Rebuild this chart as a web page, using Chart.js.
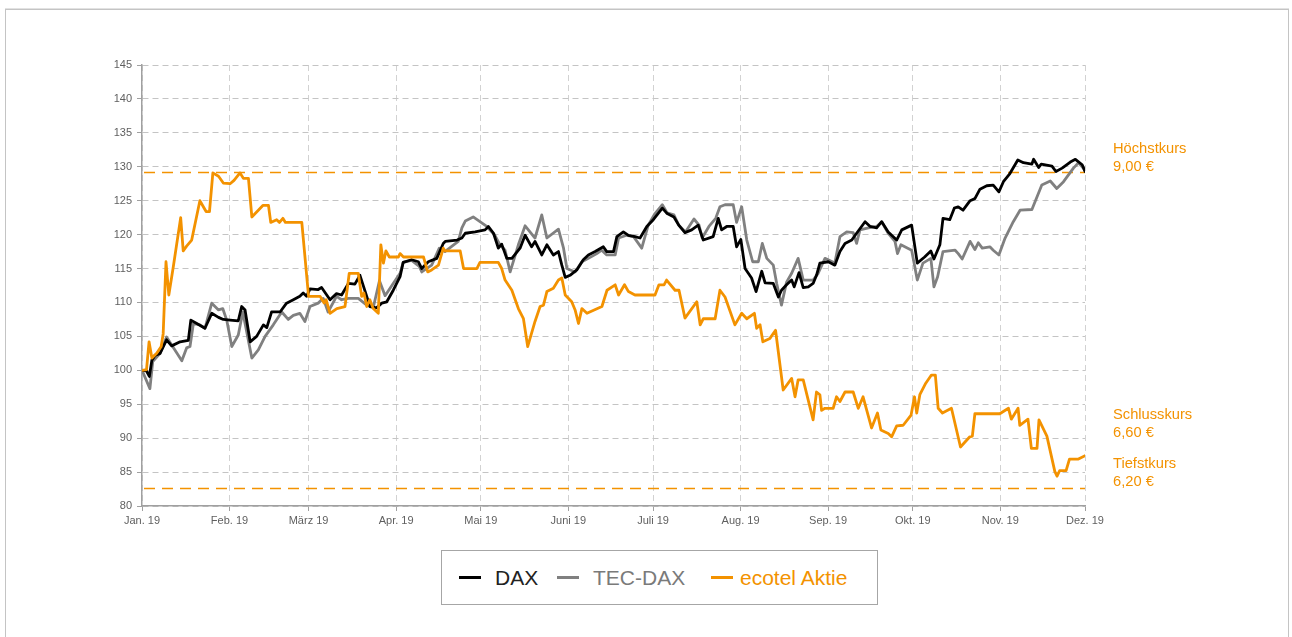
<!DOCTYPE html>
<html lang="de">
<head>
<meta charset="utf-8">
<title>ecotel Aktie vs. DAX / TEC-DAX 2019</title>
<script src="https://cdn.jsdelivr.net/npm/chart.js@4.4.1/dist/chart.umd.min.js"></script>
<style>
  html, body { margin: 0; padding: 0; background: #fff; }
  body { width: 1292px; height: 637px; position: relative; overflow: hidden; font-family: "Liberation Sans", Arial, sans-serif; }
  #rahmen { position: absolute; left: 5px; top: 9px; width: 1282px; height: 700px; border: 1px solid #c4c4c4; box-shadow: 0 -1px 0 #e2e2e2; }
  #chartBox { position: absolute; left: 0; top: 0; width: 1292px; height: 540px; }
  #legende { position: absolute; left: 441px; top: 550px; width: 435px; height: 53px; border: 1px solid #a6a6a6; background: #fff; }
  .item { position: absolute; top: 0; height: 53px; line-height: 53px; font-size: 21px; white-space: nowrap; }
  .strich { position: absolute; top: 25px; width: 22px; height: 3px; }
</style>
</head>
<body>
<div id="rahmen"></div>
<div id="chartBox"><canvas id="grafica" width="1292" height="540"></canvas></div>
<div id="legende">
  <div class="strich" style="left:17px;background:#000"></div>
  <div class="item" style="left:53px;color:#222">DAX</div>
  <div class="strich" style="left:115px;background:#808080"></div>
  <div class="item" style="left:151px;color:#7a7a7a">TEC-DAX</div>
  <div class="strich" style="left:269px;background:#f39200"></div>
  <div class="item" style="left:298px;color:#f39200">ecotel Aktie</div>
</div>
<script>
// Achse: Tage seit 1. Januar 2019
const monatsTage = [0, 31, 59, 90, 120, 151, 181, 212, 243, 273, 304, 334];
const monatsLabels = ['Jan. 19', 'Feb. 19', 'März 19', 'Apr. 19', 'Mai 19', 'Juni 19', 'Juli 19', 'Aug. 19', 'Sep. 19', 'Okt. 19', 'Nov. 19', 'Dez. 19'];

// DAX (indexiert, 100 = Jahresbeginn)
const daxTage = [0, 1.6, 2.6, 3.5, 4.6, 6.4, 8.7, 10.5, 13.5, 16.4, 17.3, 19.4, 22.3, 24.7, 27.1, 28.8, 31.2, 34.1, 35.3, 36.5, 38.3, 40.6, 43.0, 44.2, 45.9, 48.9, 51.2, 53.6, 55.9, 57.1, 58.3, 59.5, 62.4, 63.6, 66.6, 68.9, 70.7, 73.1, 75.4, 77.2, 79.6, 80.7, 83.1, 84.9, 86.7, 89.0, 91.4, 92.5, 95.5, 97.9, 99.1, 101.4, 104.4, 106.7, 107.4, 111.6, 113.3, 114.5, 118.0, 121.5, 122.7, 124.5, 126.2, 127.4, 129.2, 131.0, 133.9, 135.7, 138.0, 139.2, 141.6, 143.4, 145.7, 147.5, 148.7, 149.9, 151.6, 154.0, 156.3, 158.1, 160.5, 163.4, 164.6, 167.0, 168.2, 170.5, 172.3, 174.6, 176.4, 178.8, 181.1, 184.3, 186.0, 188.4, 190.1, 192.3, 194.7, 197.0, 198.8, 202.3, 204.1, 205.3, 207.1, 209.4, 210.6, 212.1, 213.6, 215.9, 217.5, 219.5, 220.7, 223.6, 225.4, 226.5, 228.3, 230.1, 231.0, 232.7, 234.2, 236.0, 237.7, 238.9, 240.1, 243.1, 245.4, 247.2, 249.0, 251.4, 253.1, 256.1, 257.9, 260.2, 262.0, 264.3, 267.3, 269.1, 272.6, 274.6, 277.2, 279.4, 280.5, 282.6, 283.7, 286.1, 287.7, 289.1, 290.8, 293.3, 295.0, 296.8, 299.2, 301.5, 303.5, 305.1, 307.4, 310.2, 312.2, 315.2, 315.8, 317.6, 318.5, 322.3, 323.7, 325.9, 328.8, 330.6, 333.0, 334];
const daxWerte = [100, 99.9, 99.1, 101.5, 102.2, 102.5, 104.5, 103.6, 104.2, 104.4, 107.4, 106.9, 106.2, 108.4, 107.8, 107.5, 107.4, 107.3, 109.4, 108.9, 104.2, 105.0, 106.7, 106.3, 108.6, 108.6, 109.9, 110.4, 110.9, 111.4, 110.9, 112.0, 111.9, 112.2, 110.4, 111.3, 111.1, 112.8, 112.7, 114.0, 110.9, 109.4, 109.2, 109.9, 110.1, 111.8, 113.8, 115.9, 116.3, 116.0, 115.0, 116.0, 116.5, 118.7, 119.0, 119.2, 119.5, 120.2, 120.4, 120.7, 121.2, 120.2, 118.0, 118.6, 116.5, 116.5, 118.0, 119.9, 118.2, 119.0, 117.0, 118.5, 117.0, 117.5, 115.5, 113.7, 114.0, 114.8, 116.3, 117.0, 117.5, 118.2, 117.5, 117.5, 119.7, 120.4, 119.9, 119.7, 119.5, 121.2, 122.2, 123.9, 123.1, 122.6, 121.4, 120.3, 120.7, 121.4, 119.2, 119.7, 122.4, 120.7, 121.2, 121.2, 118.2, 119.3, 115.0, 113.6, 111.6, 114.6, 112.9, 112.8, 110.8, 111.8, 112.6, 113.3, 112.3, 114.4, 112.2, 112.3, 112.8, 114.0, 115.8, 116.0, 115.5, 117.5, 118.7, 119.2, 120.2, 121.9, 121.2, 121.0, 121.9, 120.4, 119.2, 120.7, 121.4, 115.8, 116.7, 117.6, 116.4, 118.5, 122.4, 122.2, 123.9, 124.1, 123.6, 125.0, 125.3, 126.7, 127.2, 127.3, 126.3, 127.8, 129.0, 131.0, 130.6, 130.4, 131.1, 129.9, 130.4, 130.1, 129.3, 129.8, 130.7, 131.1, 130.3, 129.3];

// TEC-DAX
const tecTage = [0, 2.8, 3.8, 6.4, 8.7, 14.1, 15.8, 17.0, 18.2, 20.5, 22.3, 24.7, 27.1, 28.6, 30.0, 31.8, 34.1, 35.7, 38.9, 41.2, 43.6, 46.5, 49.5, 51.8, 53.6, 55.9, 57.7, 59.5, 62.4, 64.2, 65.9, 68.9, 70.7, 73.1, 76.6, 79.6, 82.0, 84.1, 86.1, 88.5, 91.4, 92.5, 95.5, 98.2, 99.1, 102.6, 105.3, 107.3, 112.0, 113.3, 114.5, 117.3, 119.7, 122.1, 125.0, 126.8, 128.6, 130.4, 133.3, 135.7, 139.2, 141.6, 143.4, 147.5, 149.3, 150.5, 153.4, 155.8, 158.1, 161.1, 162.8, 164.6, 167.6, 168.8, 171.7, 174.1, 177.0, 179.3, 181.7, 184.3, 186.0, 188.4, 190.1, 192.5, 195.5, 197.3, 198.4, 200.8, 203.2, 204.7, 206.5, 209.4, 210.6, 212.4, 214.2, 216.3, 218.3, 219.7, 221.3, 223.6, 224.8, 226.5, 228.3, 230.1, 232.4, 234.2, 237.7, 239.5, 241.9, 245.4, 247.2, 249.6, 251.9, 253.1, 254.3, 257.3, 260.2, 262.0, 264.3, 266.7, 267.6, 268.8, 272.6, 274.6, 276.6, 279.4, 280.5, 281.8, 283.7, 288.0, 289.1, 290.5, 293.3, 295.0, 296.2, 297.6, 300.3, 301.5, 303.5, 305.7, 308.6, 311.0, 315.2, 318.7, 321.7, 324.0, 326.4, 329.9, 331.7, 333.0, 334];
const tecWerte = [100, 97.3, 101.3, 102.5, 104.9, 101.4, 103.3, 103.5, 106.9, 106.7, 106.2, 109.9, 108.9, 109.1, 107.4, 103.5, 105.2, 108.6, 101.8, 103.0, 105.0, 106.7, 108.6, 107.5, 108.1, 108.4, 107.2, 109.4, 109.9, 110.6, 108.6, 110.9, 110.4, 110.6, 110.6, 109.6, 109.4, 113.2, 111.0, 112.5, 114.3, 115.9, 116.2, 115.3, 114.5, 115.5, 118.0, 117.5, 119.0, 121.0, 122.0, 122.6, 121.9, 121.2, 119.9, 118.5, 117.7, 114.5, 118.5, 121.3, 119.5, 122.9, 119.5, 120.8, 118.0, 115.0, 114.5, 116.0, 116.5, 117.2, 117.7, 117.0, 117.0, 119.5, 119.9, 119.7, 118.0, 121.4, 123.1, 124.4, 123.2, 122.9, 121.4, 120.4, 122.3, 121.4, 119.5, 121.2, 122.4, 124.1, 124.4, 124.4, 121.8, 124.1, 119.2, 116.0, 116.0, 118.7, 116.5, 115.5, 112.8, 109.6, 113.0, 114.3, 116.5, 113.3, 113.3, 114.3, 116.5, 115.8, 119.7, 120.4, 120.3, 118.7, 120.7, 121.0, 121.2, 121.9, 120.2, 119.0, 117.2, 118.5, 117.7, 113.3, 115.8, 116.5, 112.3, 113.8, 117.5, 117.7, 117.2, 116.4, 119.0, 117.8, 118.8, 118.0, 118.2, 117.7, 117.0, 119.5, 121.9, 123.6, 123.7, 127.3, 127.9, 126.8, 127.8, 129.8, 130.6, 130.0, 129.5];

// ecotel Aktie
const ecoTage = [0, 1.6, 2.5, 3.5, 5.2, 6.8, 7.5, 8.5, 9.5, 11.1, 13.7, 14.6, 15.8, 17.6, 20.5, 22.7, 23.9, 25.1, 27.1, 28.8, 31.2, 32.6, 34.7, 35.9, 37.7, 38.9, 41.2, 42.8, 44.8, 45.6, 47.7, 48.7, 49.9, 50.8, 51.9, 56.6, 59.0, 63.1, 64.5, 65.2, 66.6, 69.0, 71.9, 73.4, 76.6, 77.8, 78.6, 79.6, 80.7, 81.9, 83.7, 84.6, 85.5, 86.4, 87.6, 90.8, 91.4, 92.6, 99.7, 101.2, 102.6, 105.0, 106.7, 107.3, 112.7, 113.9, 118.6, 119.7, 126.2, 127.4, 128.6, 131.0, 133.3, 135.1, 136.6, 139.2, 141.0, 142.2, 143.4, 145.7, 147.5, 148.7, 149.9, 152.2, 153.4, 154.6, 155.8, 157.6, 162.9, 164.7, 167.6, 168.8, 170.9, 172.3, 174.6, 181.7, 183.1, 184.9, 185.8, 188.8, 190.2, 192.3, 196.5, 197.7, 198.8, 203.0, 204.7, 206.5, 210.0, 212.4, 214.2, 216.9, 217.7, 218.9, 219.9, 222.4, 224.4, 227.1, 230.1, 231.3, 232.4, 234.2, 237.7, 238.9, 240.1, 240.7, 241.9, 244.8, 246.0, 247.2, 249.0, 251.9, 253.7, 255.4, 258.4, 260.5, 261.7, 264.3, 265.5, 267.3, 269.6, 272.4, 273.6, 274.4, 275.5, 277.6, 279.6, 281.0, 282.0, 283.5, 286.7, 289.9, 293.2, 294.1, 295.0, 303.8, 306.9, 307.9, 310.3, 310.9, 313.8, 315.0, 317.0, 317.7, 320.5, 323.3, 324.1, 325.0, 327.3, 328.5, 331.5, 334];
const ecoWerte = [100.0, 100.1, 104.2, 101.8, 102.5, 103.5, 105.4, 116.0, 111.1, 115.3, 122.5, 117.6, 118.3, 119.2, 125.0, 123.4, 123.4, 129.1, 128.6, 127.6, 127.5, 128.0, 129.1, 128.3, 128.3, 122.6, 123.6, 124.3, 124.3, 121.8, 122.2, 121.8, 122.4, 121.8, 121.8, 121.8, 110.9, 110.9, 109.9, 110.4, 108.4, 109.1, 109.4, 114.3, 114.3, 110.9, 111.4, 109.4, 110.4, 109.1, 108.4, 118.5, 115.8, 117.6, 116.7, 116.7, 117.2, 116.7, 116.7, 114.5, 114.8, 115.5, 118.0, 117.6, 117.6, 115.0, 115.0, 115.9, 115.9, 115.0, 113.3, 111.8, 109.1, 107.6, 103.5, 107.2, 109.4, 109.6, 111.6, 112.1, 113.3, 113.6, 111.1, 110.1, 108.9, 106.9, 109.1, 108.4, 109.4, 111.8, 112.6, 111.1, 112.6, 111.6, 111.1, 111.1, 112.6, 112.6, 113.3, 111.8, 111.8, 107.7, 110.1, 106.7, 107.6, 107.6, 111.8, 110.8, 106.7, 108.4, 107.6, 108.4, 106.2, 106.7, 104.2, 104.7, 105.9, 97.1, 98.8, 96.1, 98.6, 98.6, 92.7, 96.8, 96.4, 94.1, 94.4, 94.4, 96.1, 95.4, 96.8, 96.8, 94.4, 96.1, 91.5, 93.7, 91.2, 90.7, 90.2, 91.8, 91.9, 93.4, 96.1, 93.7, 96.4, 98.1, 99.3, 99.3, 94.4, 93.7, 94.4, 88.7, 90.2, 90.3, 93.6, 93.6, 94.4, 92.8, 94.4, 91.9, 92.8, 88.5, 88.5, 92.7, 90.3, 85.1, 84.4, 85.2, 85.2, 86.9, 86.9, 87.4];

// Kursmarken der ecotel Aktie (Höchst-/Tiefstkurs als Indexwert)
const hoechstIndex = 129.3;
const tiefstIndex = 82.6;
const textHoechst = ['Höchstkurs', '9,00 €'];
const textSchluss = ['Schlusskurs', '6,60 €'];
const textTiefst = ['Tiefstkurs', '6,20 €'];

const naranja = '#f39200';

function puntos(tage, werte) {
    return tage.map((t, i) => ({ x: t, y: werte[i] }));
}

// Plugin: gestrichelte Linien + Beschriftung rechts
const marcas = {
    id: 'marcas',
    beforeDatasetsDraw(chart) {
        const { ctx, chartArea, scales: { y } } = chart;
        ctx.save();
        ctx.strokeStyle = naranja;
        ctx.lineWidth = 1.5;
        ctx.setLineDash([11, 7]);
        [hoechstIndex, tiefstIndex].forEach((v) => {
            const py = Math.round(y.getPixelForValue(v)) + 0.5;
            ctx.beginPath();
            ctx.moveTo(chartArea.left + 2, py);
            ctx.lineTo(chartArea.right, py);
            ctx.stroke();
        });
        ctx.restore();
    },
    afterDraw(chart) {
        const { ctx, chartArea, scales: { y } } = chart;
        const tx = chartArea.right + 28;
        ctx.save();
        ctx.fillStyle = naranja;
        ctx.font = '14.7px "Liberation Sans", Arial, sans-serif';
        ctx.textBaseline = 'middle';
        ctx.textAlign = 'left';
        const escribir = (lineas, yBase) => {
            ctx.fillText(lineas[0], tx, yBase - 18);
            ctx.fillText(lineas[1], tx, yBase);
        };
        const yH = y.getPixelForValue(hoechstIndex);
        const yT = y.getPixelForValue(tiefstIndex);
        escribir(textHoechst, yH - 5);
        escribir(textTiefst, yT - 6);
        escribir(textSchluss, yT - 55);
        ctx.restore();
    }
};

const ctx = document.getElementById('grafica');
new Chart(ctx, {
    type: 'line',
    data: {
        datasets: [
            { label: 'DAX', data: puntos(daxTage, daxWerte), borderColor: '#000000', order: 1 },
            { label: 'TEC-DAX', data: puntos(tecTage, tecWerte), borderColor: '#808080', order: 2 },
            { label: 'ecotel Aktie', data: puntos(ecoTage, ecoWerte), borderColor: naranja, order: 0 }
        ]
    },
    options: {
        responsive: false,
        animation: false,
        parsing: false,
        layout: { padding: { left: 80, right: 207, top: 65, bottom: 0 } },
        elements: {
            line: { borderWidth: 2.8, tension: 0, borderJoinStyle: 'round', borderCapStyle: 'round', fill: false },
            point: { radius: 0, hoverRadius: 0 }
        },
        plugins: {
            legend: { display: false },
            tooltip: { enabled: false }
        },
        scales: {
            x: {
                type: 'linear',
                min: 0,
                max: 334,
                afterBuildTicks: (axis) => { axis.ticks = monatsTage.map((v) => ({ value: v })); },
                afterFit: (axis) => { axis.height = 34; },
                ticks: {
                    autoSkip: false,
                    maxRotation: 0,
                    padding: 3,
                    color: '#5f5f5f',
                    font: { family: '"Liberation Sans", Arial, sans-serif', size: 11 },
                    callback: (value) => monatsLabels[monatsTage.indexOf(value)]
                },
                grid: { color: '#d2d2d2', lineWidth: 1, tickLength: 5, tickColor: '#a0a0a0' },
                border: { display: true, color: '#a0a0a0', width: 1.5, dash: [6, 4] }
            },
            y: {
                min: 80,
                max: 145,
                afterBuildTicks: (axis) => {
                    const t = [];
                    for (let v = 80; v <= 145; v += 5) t.push({ value: v });
                    axis.ticks = t;
                },
                afterFit: (axis) => { axis.width = 62; },
                ticks: {
                    padding: 5,
                    color: '#5f5f5f',
                    font: { family: '"Liberation Sans", Arial, sans-serif', size: 11 }
                },
                grid: { color: '#c4c4c4', lineWidth: 1, tickLength: 5, tickColor: '#a0a0a0' },
                border: { display: true, color: '#a0a0a0', width: 1.5, dash: [6, 4] }
            }
        }
    },
    plugins: [marcas]
});
</script>
</body>
</html>
